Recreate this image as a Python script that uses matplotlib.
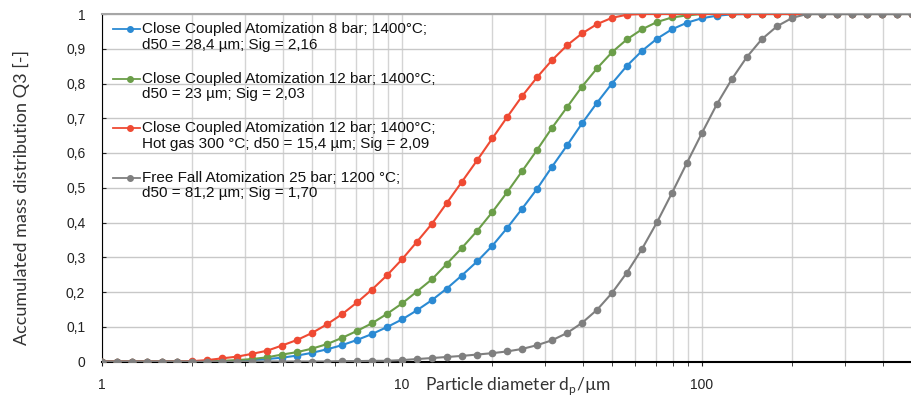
import matplotlib.pyplot as plt
import numpy as np
from matplotlib.ticker import FixedLocator, FuncFormatter, NullFormatter

plt.rcParams["font.family"] = ["Liberation Sans", "DejaVu Sans"]

# particle diameter in µm (20 classes per decade)
diameter = [1.00, 1.12, 1.26, 1.41, 1.58, 1.78, 2.00, 2.24, 2.51, 2.82,
            3.16, 3.55, 3.98, 4.47, 5.01, 5.62, 6.31, 7.08, 7.94, 8.91,
            10.0, 11.2, 12.6, 14.1, 15.8, 17.8, 20.0, 22.4, 25.1, 28.2,
            31.6, 35.5, 39.8, 44.7, 50.1, 56.2, 63.1, 70.8, 79.4, 89.1,
            100, 112, 126, 141, 158, 178, 200, 224, 251, 282,
            316, 355, 398, 447, 501]

q3_cc_8bar = [0, 0, 0, 0, 0, 0, 0, 0, 0, 0.002,
              0.004, 0.007, 0.011, 0.017, 0.025, 0.035, 0.047, 0.062, 0.079, 0.099,
              0.121, 0.147, 0.177, 0.210, 0.247, 0.288, 0.333, 0.384, 0.439, 0.497,
              0.560, 0.622, 0.685, 0.745, 0.800, 0.851, 0.894, 0.929, 0.956, 0.975,
              0.988, 0.995, 0.999, 1, 1, 1, 1, 1, 1, 1,
              1, 1, 1, 1, 1]

q3_cc_12bar = [0, 0, 0, 0, 0, 0, 0, 0, 0.002, 0.004,
               0.007, 0.012, 0.020, 0.027, 0.037, 0.050, 0.068, 0.088, 0.110, 0.137,
               0.167, 0.201, 0.237, 0.281, 0.326, 0.376, 0.430, 0.487, 0.547, 0.609,
               0.672, 0.732, 0.791, 0.844, 0.890, 0.927, 0.956, 0.977, 0.990, 0.996,
               1, 1, 1, 1, 1, 1, 1, 1, 1, 1,
               1, 1, 1, 1, 1]

q3_cc_12bar_hotgas = [0, 0, 0, 0, 0, 0, 0.001, 0.004, 0.009, 0.014,
                      0.022, 0.031, 0.046, 0.062, 0.082, 0.107, 0.136, 0.170, 0.207, 0.248,
                      0.294, 0.344, 0.397, 0.456, 0.516, 0.579, 0.642, 0.703, 0.763, 0.818,
                      0.867, 0.910, 0.944, 0.971, 0.989, 0.998, 1, 1, 1, 1,
                      1, 1, 1, 1, 1, 1, 1, 1, 1, 1,
                      1, 1, 1, 1, 1]

q3_free_fall = [0, 0, 0, 0, 0, 0, 0, 0, 0, 0,
                0, 0, 0, 0, 0, 0, 0.001, 0.001, 0.002, 0.002,
                0.004, 0.007, 0.010, 0.013, 0.016, 0.020, 0.024, 0.029, 0.036, 0.047,
                0.061, 0.082, 0.111, 0.149, 0.197, 0.256, 0.324, 0.401, 0.485, 0.572,
                0.658, 0.740, 0.814, 0.876, 0.927, 0.965, 0.989, 1, 1, 1,
                1, 1, 1, 1, 1]

series = [q3_cc_8bar, q3_cc_12bar, q3_cc_12bar_hotgas, q3_free_fall]
colors = ["#2b8ad3", "#6b9e49", "#ef4a33", "#7f7f7f"]
labels = [
    ("Close Coupled Atomization 8 bar; 1400°C;", "d50 = 28,4 µm; Sig = 2,16"),
    ("Close Coupled Atomization 12 bar; 1400°C;", "d50 = 23 µm; Sig = 2,03"),
    ("Close Coupled Atomization 12 bar; 1400°C;", "Hot gas 300 °C; d50 = 15,4 µm; Sig = 2,09"),
    ("Free Fall Atomization 25 bar; 1200 °C;", "d50 = 81,2 µm; Sig = 1,70"),
]

fig = plt.figure(figsize=(9.12, 3.98), dpi=100)
ax = fig.add_axes([102 / 912, 36.5 / 398, 810 / 912, 347.5 / 398])

for y, c in zip(series, colors):
    ax.plot(diameter, y, color=c, lw=1.5, marker="o", ms=4.5, zorder=3)

ax.set_xscale("log")
ax.set_xlim(1, 501)
ax.set_ylim(0, 1)

# ticks and grid
ax.xaxis.set_major_locator(FixedLocator([1, 10, 100]))
ax.xaxis.set_minor_locator(FixedLocator([m * 10 ** e for e in range(3) for m in range(2, 10)]))
ax.xaxis.set_major_formatter(FuncFormatter(lambda v, _: "%g" % v))
ax.xaxis.set_minor_formatter(NullFormatter())
ax.set_yticks(np.linspace(0, 1, 11))
ax.yaxis.set_major_formatter(FuncFormatter(lambda v, _: ("%g" % round(v, 1)).replace(".", ",")))
ax.tick_params(axis="x", which="both", direction="out", length=3, pad=9, labelsize=10, colors="#222222")
ax.tick_params(axis="y", direction="in", length=3, pad=12, labelsize=10, colors="#222222")

ax.grid(which="both", axis="x", color="#d4d4d4", lw=1)
ax.grid(which="major", axis="y", color="#c8c8c8", lw=1)
ax.set_axisbelow(True)

ax.spines["right"].set_visible(False)
ax.spines["top"].set_color("#a6a6a6")
ax.spines["top"].set_linewidth(1.5)
ax.spines["left"].set_color("black")
ax.spines["bottom"].set_color("black")
ax.spines["bottom"].set_linewidth(1.5)

# axis labels
ax.set_ylabel("Accumulated mass distribution Q3 [-]", family=["Lato", "DejaVu Sans"],
              fontsize=13, color="#333333")
ax.yaxis.set_label_coords(-0.089, 0.473)
ax.set_xlabel("Particle diameter d$_\\mathregular{p}$/µm", family=["Lato", "DejaVu Sans"],
              fontsize=12.5, color="#333333")
ax.xaxis.set_label_coords(0.513, -0.04)

# legend drawn by hand so the handle sits on the first text line
for i, ((l1, l2), c) in enumerate(zip(labels, colors)):
    py = 29.3 + 49.4 * i
    ya = (361.5 - py) / 347.5
    yb = (361.5 - py - 15.7) / 347.5
    ax.plot([0.0136, 0.0469], [ya, ya], color=c, lw=1.3, transform=ax.transAxes, clip_on=False, zorder=4)
    ax.plot([0.034], [ya], color=c, marker="o", ms=4, transform=ax.transAxes, clip_on=False, zorder=4)
    ax.text(0.049, ya, l1, transform=ax.transAxes, va="center", ha="left", fontsize=11, color="#111111")
    ax.text(0.049, yb, l2, transform=ax.transAxes, va="center", ha="left", fontsize=11, color="#111111")

fig.savefig("out.png", dpi=100)
